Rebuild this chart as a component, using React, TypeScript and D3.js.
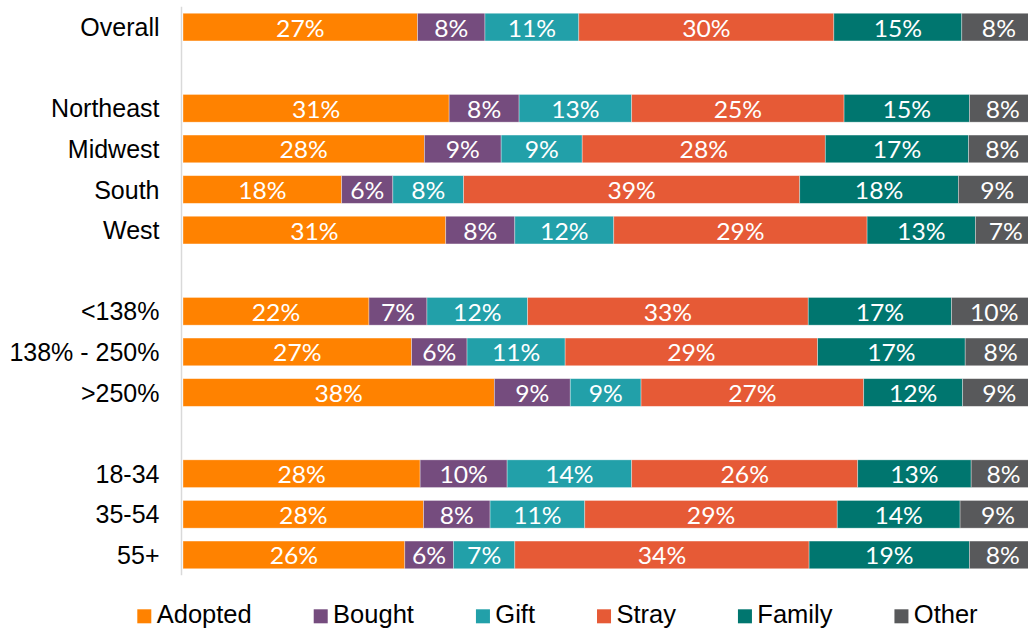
// PetSourceChart — 100% stacked horizontal bars of where pets came from,
// by region, income (% of poverty level) and age group.

import { useEffect, useRef } from "react";
import * as d3 from "d3";

const WIDTH = 1028;
const HEIGHT = 628;

const GAP = null;
// row order, GAP marks an empty slot between groups
const rows = [
  "Overall", GAP,
  "Northeast", "Midwest", "South", "West", GAP,
  "<138%", "138% - 250%", ">250%", GAP,
  "18-34", "35-54", "55+",
];
const categories = rows.filter((r) => r !== GAP);

const seriesKeys = ["Adopted", "Bought", "Gift", "Stray", "Family", "Other"];
const seriesColors = ["#ff8200", "#754c7e", "#22a0a9", "#e65a36", "#00766f", "#58595b"];

// bar lengths (share of each row)
const adopted = [27.5, 31.2, 28.3, 18.6, 30.8, 21.8, 26.8, 36.5, 27.8, 28.2, 26.0];
const bought = [7.9, 8.2, 9.0, 6.0, 8.1, 6.8, 6.5, 8.9, 10.2, 7.8, 5.7];
const gift = [11.0, 13.2, 9.5, 8.3, 11.6, 11.8, 11.5, 8.3, 14.6, 11.1, 7.2];
const stray = [29.9, 24.9, 28.5, 39.4, 29.7, 32.9, 29.6, 26.1, 26.5, 29.6, 34.5];
const family = [15.0, 14.7, 16.8, 18.6, 12.7, 16.8, 17.3, 11.6, 13.3, 14.4, 18.8];
const other = [8.7, 7.8, 7.9, 9.1, 7.1, 10.0, 8.3, 8.6, 7.6, 8.9, 7.8];

// labels printed on the bars
const adoptedLabels = [27, 31, 28, 18, 31, 22, 27, 38, 28, 28, 26];
const boughtLabels = [8, 8, 9, 6, 8, 7, 6, 9, 10, 8, 6];
const giftLabels = [11, 13, 9, 8, 12, 12, 11, 9, 14, 11, 7];
const strayLabels = [30, 25, 28, 39, 29, 33, 29, 27, 26, 29, 34];
const familyLabels = [15, 15, 17, 18, 13, 17, 17, 12, 13, 14, 19];
const otherLabels = [8, 8, 8, 9, 7, 10, 8, 9, 8, 9, 8];

const seriesValues = [adopted, bought, gift, stray, family, other];
const seriesLabels = [adoptedLabels, boughtLabels, giftLabels, strayLabels, familyLabels, otherLabels];

const CAT_FONT = "'Liberation Sans', Arial, sans-serif";
const LABEL_FONT = "Lato, 'Open Sans', sans-serif";

export default function App() {
  const svgRef = useRef(null);

  useEffect(() => {
    const svg = d3.select(svgRef.current);
    svg.selectAll("*").remove();

    const table = categories.map((c, i) => {
      const row = { category: c, slot: rows.indexOf(c) };
      seriesKeys.forEach((k, s) => {
        row[k] = seriesValues[s][i];
      });
      return row;
    });

    const x = d3.scaleLinear().domain([0, 100]).range([183, 1036]);
    const y = d3.scaleBand()
      .domain(d3.range(rows.length))
      .range([6.8, 575.2])
      .paddingInner(0.318)
      .paddingOuter(0.159);

    const stacked = d3.stack().keys(seriesKeys)(table);

    // category axis line
    svg.append("line")
      .attr("x1", x(0) - 1.5)
      .attr("x2", x(0) - 1.5)
      .attr("y1", y.range()[0])
      .attr("y2", y.range()[1])
      .attr("stroke", "#d9d9d9")
      .attr("stroke-width", 1.5);

    stacked.forEach((layer, s) => {
      const g = svg.append("g");
      g.selectAll("rect")
        .data(layer)
        .join("rect")
        .attr("x", (d) => x(d[0]))
        .attr("y", (d) => y(d.data.slot))
        .attr("width", (d) => x(d[1]) - x(d[0]))
        .attr("height", y.bandwidth())
        .attr("fill", seriesColors[s])
        .attr("stroke", "#ffffff")
        .attr("stroke-opacity", 0.45)
        .attr("stroke-width", 0.75);

      g.selectAll("text")
        .data(layer)
        .join("text")
        .attr("transform", (d) =>
          `translate(${(x(d[0]) + x(d[1])) / 2},${y(d.data.slot) + y.bandwidth() / 2 + 9.5}) scale(1.05,1)`)
        .attr("text-anchor", "middle")
        .attr("fill", "#ffffff")
        .attr("font-family", LABEL_FONT)
        .attr("font-size", "23.5px")
        .text((d, i) => `${seriesLabels[s][i]}%`);
    });

    // category labels
    svg.append("g")
      .selectAll("text")
      .data(table)
      .join("text")
      .attr("x", 159.5)
      .attr("y", (d) => y(d.slot) + y.bandwidth() / 2 + 9)
      .attr("text-anchor", "end")
      .attr("fill", "#000000")
      .attr("font-family", CAT_FONT)
      .attr("font-size", "25px")
      .text((d) => d.category);

    // legend, laid out item after item
    const legend = svg.append("g");
    let lx = 137.3;
    const baseY = 623.3;
    seriesKeys.forEach((k, s) => {
      legend.append("rect")
        .attr("x", lx)
        .attr("y", baseY - 14)
        .attr("width", 14)
        .attr("height", 14)
        .attr("fill", seriesColors[s]);
      const t = legend.append("text")
        .attr("x", lx + 19.4)
        .attr("y", baseY)
        .attr("fill", "#000000")
        .attr("font-family", CAT_FONT)
        .attr("font-size", "25.5px")
        .text(k);
      const w = t.node().getComputedTextLength();
      lx += 19.4 + w + 62;
    });
  }, []);

  return (
    <svg
      ref={svgRef}
      width={WIDTH}
      height={HEIGHT}
      style={{ position: "absolute", left: 0, top: 0, background: "#ffffff" }}
    />
  );
}
